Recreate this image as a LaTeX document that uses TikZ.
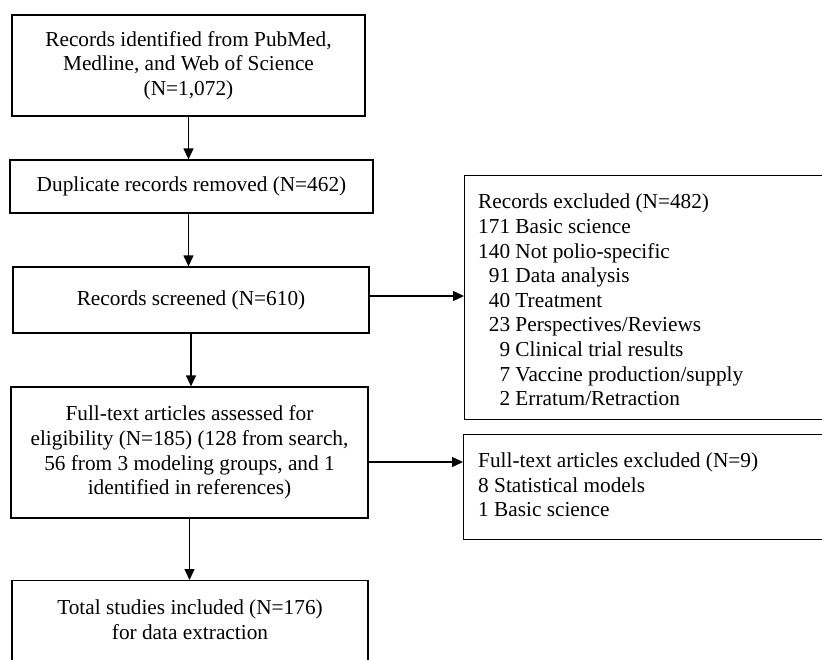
\documentclass[tikz,border=0pt]{standalone}
\usepackage{fontspec}
\setmainfont{Liberation Serif}
\usetikzlibrary{arrows.meta}
\begin{document}
\begin{tikzpicture}[x=1pt,y=-1pt,
  box/.style={draw=black, line width=1.3pt, inner sep=0pt, minimum width=#1},
  txt/.style={inner sep=0pt, align=center, font=\fontsize{21.3}{24.6}\selectfont},
  ltxt/.style={inner sep=0pt, align=left, anchor=west, font=\fontsize{21.3}{24.6}\selectfont},
  arr/.style={line width=1.3pt, -{Triangle[length=11pt,width=10pt]}}]
\useasboundingbox (0,0) rectangle (822,659);
% left column
\node[box=353pt, minimum height=101pt, txt] (b1) at (188.5,65.5)
  {Records identified from PubMed,\\Medline, and Web of Science\\(N=1,072)};
\node[box=363pt, minimum height=53pt, txt] (b2) at (191.5,186.5)
  {Duplicate records removed (N=462)};
\node[box=356pt, minimum height=66pt, txt] (b3) at (191,300)
  {Records screened (N=610)};
\node[box=357pt, minimum height=131pt, txt] (b4) at (189.5,452.5)
  {Full-text articles assessed for\\eligibility (N=185) (128 from search,\\56 from 3 modeling groups, and 1\\identified in references)};
\node[box=356pt, minimum height=100pt, anchor=north] (b5) at (190,580) {};
\node[txt] (t5) at (190,619.5) {Total studies included (N=176)\\for data extraction};
% right column
\node[box=370pt, minimum height=244pt, anchor=north west] (r1) at (464,175) {};
\node[ltxt] (tr1) at (478,300) {Records excluded (N=482)\\
171 Basic science\\
140 Not polio-specific\\
\phantom{0}91 Data analysis\\
\phantom{0}40 Treatment\\
\phantom{0}23 Perspectives/Reviews\\
\phantom{00}9 Clinical trial results\\
\phantom{00}7 Vaccine production/supply\\
\phantom{00}2 Erratum/Retraction};
\node[box=370pt, minimum height=105pt, anchor=north west] (r2) at (463,434) {};
\node[ltxt] (tr2) at (478,485) {Full-text articles excluded (N=9)\\
8 Statistical models\\
1 Basic science};
% connectors
\draw[arr] (b1.south) -- (b1.south |- b2.north);
\draw[arr] (b2.south -| b1.south) -- (b1.south |- b3.north);
\draw[arr] (b3.south) -- (b3.south |- b4.north);
\draw[arr] (b4.south) -- (b4.south |- b5.north);
\draw[arr] ([yshift=4pt]b3.east) -- ([yshift=4pt]b3.east -| r1.west);
\draw[arr] ([yshift=-9.5pt]b4.east) -- ([yshift=-9.5pt]b4.east -| r2.west);
\end{tikzpicture}
\end{document}
